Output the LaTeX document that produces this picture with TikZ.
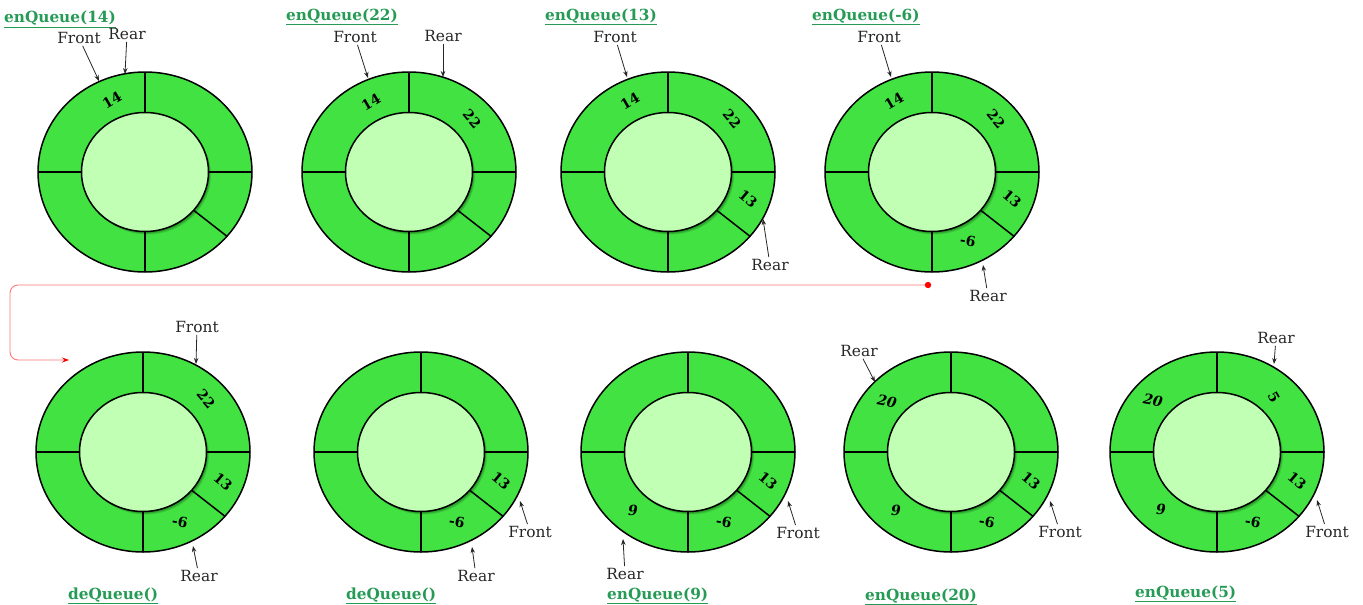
\documentclass[tikz,border=0pt]{standalone}
\usepackage{fontspec}
\setmainfont{DejaVu Serif}
\usetikzlibrary{arrows.meta}

\definecolor{ringgreen}{RGB}{65,226,65}
\definecolor{hubgreen}{RGB}{192,255,180}
\definecolor{titlegreen}{RGB}{38,155,85}
\definecolor{linkred}{RGB}{255,120,120}

\tikzset{
  slotline/.style={line width=1.5pt, black},
  valtext/.style={font=\fontsize{14}{14}\selectfont\bfseries, inner sep=0pt},
  slanted/.style={font=\fontsize{14}{14}\selectfont\bfseries\itshape},
  ptrtext/.style={font=\fontsize{15.4}{15.4}\selectfont, text=black!85, inner sep=1pt},
  ptrarrow/.style={-{Stealth[length=6pt,width=4.5pt]}, line width=0.8pt, black!85, shorten <=1pt},
  optitle/.style={font=\fontsize{15.3}{15.3}\selectfont\bfseries, text=titlegreen, anchor=base west, inner sep=0pt},
}

% one circular buffer with five slots, centred at (#1,#2)
\newcommand{\queuering}[2]{%
  \begin{scope}[shift={(#1,#2)}]
    \fill[ringgreen] (0,0) ellipse [x radius=107pt, y radius=100pt];
    \foreach \s in {1,...,5}
      \fill[black, opacity=0.09] (0.5*\s,0.6*\s) ellipse [x radius=63.5pt, y radius=59.5pt];
    \foreach \t in {0,40,90,180,270}
      \draw[slotline] ({63.5*cos(\t)},{59.5*sin(\t)}) -- ({107*cos(\t)},{100*sin(\t)});
    \draw[slotline] (0,0) ellipse [x radius=107pt, y radius=100pt];
    \filldraw[fill=hubgreen, draw=black, line width=1.5pt] (0,0) ellipse [x radius=63.5pt, y radius=59.5pt];
  \end{scope}}

\newcommand{\optitle}[3]{\node[optitle] at (#1,#2) {\underline{#3}};}

\begin{document}
\begin{tikzpicture}[x=1pt, y=-1pt]
\useasboundingbox (0,0) rectangle (1363,605);

% ---------- first row ----------
\queuering{145}{172}
\queuering{409}{172}
\queuering{668}{172}
\queuering{932}{172}

% ---------- second row ----------
\queuering{143}{452}
\queuering{421}{452}
\queuering{688}{452}
\queuering{951}{452}
\queuering{1217}{452}

% slot values, first row
\node[valtext, rotate=30]  at (112,100) {14};

\node[valtext, rotate=30]  at (371,102) {14};
\node[valtext, rotate=-50] at (472,119) {22};

\node[valtext, rotate=30]  at (630,101) {14};
\node[valtext, rotate=-50] at (732,119) {22};
\node[valtext, rotate=-40] at (748,199) {13};

\node[valtext, rotate=30]  at (894,101) {14};
\node[valtext, rotate=-50] at (996,119) {22};
\node[valtext, rotate=-40] at (1012,199) {13};
\node[valtext, rotate=-10] at (968,241) {-6};

% slot values, second row
\node[valtext, rotate=-50] at (206,399) {22};
\node[valtext, rotate=-40] at (223,482) {13};
\node[valtext, rotate=-10] at (180,522) {-6};

\node[valtext, rotate=-40] at (501,481) {13};
\node[valtext, rotate=-10] at (457,522) {-6};

\node[valtext, slanted]    at (633,510) {9};
\node[valtext, rotate=-10] at (724,522) {-6};
\node[valtext, rotate=-40] at (768,481) {13};

\node[valtext, slanted, rotate=-10] at (887,401) {20};
\node[valtext, slanted]    at (896,510) {9};
\node[valtext, rotate=-10] at (987,522) {-6};
\node[valtext, rotate=-40] at (1031,481) {13};

\node[valtext, slanted, rotate=-10] at (1153,400) {20};
\node[valtext, rotate=-60] at (1274,397) {5};
\node[valtext, slanted]    at (1161,509) {9};
\node[valtext, rotate=-10] at (1253,522) {-6};
\node[valtext, rotate=-40] at (1297,481) {13};

% operation titles
\optitle{4}{23}{enQueue(14)}
\optitle{286}{20}{enQueue(22)}
\optitle{545}{20}{enQueue(13)}
\optitle{812}{20}{enQueue(-6)}
\optitle{68}{599}{deQueue()}
\optitle{346}{599}{deQueue()}
\optitle{607}{599}{enQueue(9)}
\optitle{865}{600}{enQueue(20)}
\optitle{1135}{597}{enQueue(5)}

% front / rear pointers
\node[ptrtext] (f1) at (79,38) {Front};
\node[ptrtext] (r1) at (127,34) {Rear};
\coordinate (f1t) at (99,81);  \coordinate (r1t) at (125,74);
\draw[ptrarrow] (f1) -- (f1t);  \draw[ptrarrow] (r1) -- (r1t);

\node[ptrtext] (f2) at (355,37) {Front};
\node[ptrtext] (r2) at (443,36) {Rear};
\coordinate (f2t) at (368,78); \coordinate (r2t) at (443,77);
\draw[ptrarrow] (f2) -- (f2t);  \draw[ptrarrow] (r2) -- (r2t);

\node[ptrtext] (f3) at (615,37) {Front};
\node[ptrtext] (r3) at (770,265) {Rear};
\coordinate (f3t) at (627,77); \coordinate (r3t) at (763,219);
\draw[ptrarrow] (f3) -- (f3t);  \draw[ptrarrow] (r3) -- (r3t);

\node[ptrtext] (f4) at (879,37) {Front};
\node[ptrtext] (r4) at (988,296) {Rear};
\coordinate (f4t) at (891,77); \coordinate (r4t) at (983,265);
\draw[ptrarrow] (f4) -- (f4t);  \draw[ptrarrow] (r4) -- (r4t);

\node[ptrtext] (f5) at (197,327) {Front};
\node[ptrtext] (r5) at (199,576) {Rear};
\coordinate (f5t) at (196,364); \coordinate (r5t) at (193,546);
\draw[ptrarrow] (f5) -- (f5t);  \draw[ptrarrow] (r5) -- (r5t);

\node[ptrtext] (f6) at (530,532) {Front};
\node[ptrtext] (r6) at (476,576) {Rear};
\coordinate (f6t) at (520,501); \coordinate (r6t) at (472,547);
\draw[ptrarrow] (f6) -- (f6t);  \draw[ptrarrow] (r6) -- (r6t);

\node[ptrtext] (f7) at (798,533) {Front};
\node[ptrtext] (r7) at (625,574) {Rear};
\coordinate (f7t) at (788,501); \coordinate (r7t) at (623,539);
\draw[ptrarrow] (f7) -- (f7t);  \draw[ptrarrow] (r7) -- (r7t);

\node[ptrtext] (f8) at (1060,532) {Front};
\node[ptrtext] (r8) at (859,351) {Rear};
\coordinate (f8t) at (1050,501); \coordinate (r8t) at (875,382);
\draw[ptrarrow] (f8) -- (f8t);  \draw[ptrarrow] (r8) -- (r8t);

\node[ptrtext] (f9) at (1327,532) {Front};
\node[ptrtext] (r9) at (1276,338) {Rear};
\coordinate (f9t) at (1317,500); \coordinate (r9t) at (1274,364);
\draw[ptrarrow] (f9) -- (f9t);  \draw[ptrarrow] (r9) -- (r9t);

% link from the first row to the second row
\coordinate (linkstart) at (928,285);
\coordinate (linkend) at (69,360);
\draw[linkred, line width=0.9pt, rounded corners=8pt,
      -{Stealth[length=7pt,width=5pt,color=red]}]
  (linkstart) -- (10,285) -- (10,360) -- (linkend);
\fill[red] (linkstart) circle [radius=3.2pt];
\end{tikzpicture}
\end{document}
